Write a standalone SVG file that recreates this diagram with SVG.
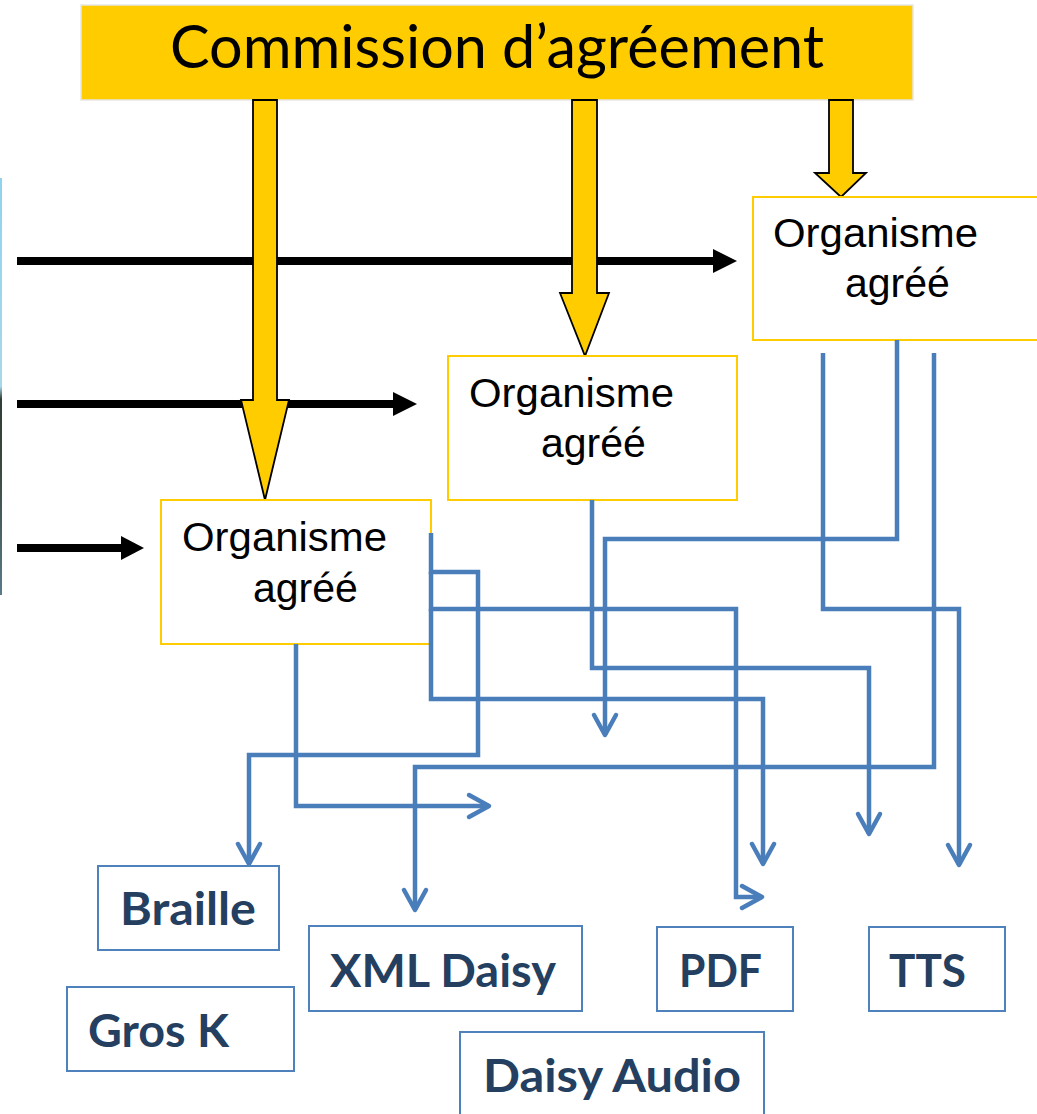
<svg xmlns="http://www.w3.org/2000/svg" width="1037" height="1114" viewBox="0 0 1037 1114">
<style>
.org rect{fill:#fff;stroke:#ffcc00;stroke-width:2}
.org text{font-family:"Liberation Sans",Arial,sans-serif;font-size:41px;fill:#000}
.out rect{fill:#fff;stroke:#4f81bd;stroke-width:2}
.out text{font-family:Lato,"Open Sans",sans-serif;font-weight:bold;font-size:45px;fill:#243f60}
.blk{stroke:#000;stroke-width:8;fill:none}
.yel{fill:#ffcc00;stroke:#000;stroke-width:1.8;stroke-linejoin:miter}
.con path{fill:none;stroke:#4a7ebb;stroke-width:4.5;marker-end:url(#ah)}
</style>
<defs>
<marker id="ah" markerUnits="userSpaceOnUse" markerWidth="30" markerHeight="30" viewBox="-24 -15 28 30" refX="0" refY="0" orient="auto" overflow="visible">
<path d="M-20,-11 L0,0 L-20,11" fill="none" stroke="#4a7ebb" stroke-width="4.5" stroke-linecap="round" stroke-linejoin="round"/>
</marker>
<linearGradient id="edge" x1="0" y1="0" x2="0" y2="1">
<stop offset="0" stop-color="#8fd3ee"/>
<stop offset="0.5" stop-color="#a8d8e8"/>
<stop offset="0.53" stop-color="#2e3e36"/>
<stop offset="0.7" stop-color="#3a4a40"/>
<stop offset="1" stop-color="#5a7a8a"/>
</linearGradient>
</defs>
<rect width="1037" height="1114" fill="#fff"/>
<rect x="0" y="178" width="2" height="417" fill="url(#edge)"/>

<g id="commission">
<rect x="81" y="5" width="832" height="95" fill="#ffcc00" stroke="#e6e6e6" stroke-width="1.5"/>
<text x="170" y="68" font-family="Lato,'Open Sans',sans-serif" font-size="60" textLength="654" lengthAdjust="spacingAndGlyphs" fill="#000">Commission d’agréement</text>
</g>

<g id="inputs">
<line class="blk" x1="17" y1="261" x2="715" y2="261"/>
<polygon points="713,249 737,261 713,273" fill="#000"/>
<line class="blk" x1="17" y1="404" x2="395" y2="404"/>
<polygon points="393,392 417,404 393,416" fill="#000"/>
<line class="blk" x1="17" y1="548" x2="123" y2="548"/>
<polygon points="121,536 144,548 121,560" fill="#000"/>
</g>

<g id="agrement-arrows">
<polygon class="yel" points="253,100 277,100 277,400 289,400 265,500 241,400 253,400"/>
<polygon class="yel" points="572,100 597,100 597,293 609,293 585,356 560,293 572,293"/>
<polygon class="yel" points="829,100 853,100 853,173 866,173 841,197 815,173 829,173"/>
</g>

<g id="org-c" class="org">
<rect x="753" y="197" width="290" height="143"/>
<text x="773" y="247" textLength="205" lengthAdjust="spacingAndGlyphs">Organisme</text>
<text x="845" y="297">agréé</text>
</g>
<g id="org-b" class="org">
<rect x="448" y="356" width="289" height="144"/>
<text x="469" y="407" textLength="205" lengthAdjust="spacingAndGlyphs">Organisme</text>
<text x="541" y="457">agréé</text>
</g>
<g id="org-a" class="org">
<rect x="161" y="500" width="270" height="144"/>
<text x="182" y="551" textLength="205" lengthAdjust="spacingAndGlyphs">Organisme</text>
<text x="253" y="602">agréé</text>
</g>

<g id="connectors" class="con">
<path d="M897,340 V539 H605 V735"/>
<path d="M823,353 V609 H959 V865"/>
<path d="M934,353 V767 H415 V910"/>
<path d="M592,500 V668 H869 V834"/>
<path d="M431,533 V572 H478 V755 H249 V864"/>
<path d="M431,572 V609 H736 V897 H762"/>
<path d="M431,609 V699 H763 V864"/>
<path d="M296,644 V806 H489"/>
</g>

<g id="braille" class="out">
<rect x="98" y="866" width="181" height="84"/>
<text x="120" y="925" textLength="136" lengthAdjust="spacingAndGlyphs">Braille</text>
</g>
<g id="gros-k" class="out">
<rect x="67" y="987" width="227" height="84"/>
<text x="88" y="1047" textLength="141" lengthAdjust="spacingAndGlyphs">Gros K</text>
</g>
<g id="xml-daisy" class="out">
<rect x="309" y="926" width="273" height="85"/>
<text x="330" y="987" textLength="226" lengthAdjust="spacingAndGlyphs">XML Daisy</text>
</g>
<g id="pdf" class="out">
<rect x="657" y="927" width="136" height="84"/>
<text x="679" y="987" textLength="83" lengthAdjust="spacingAndGlyphs">PDF</text>
</g>
<g id="tts" class="out">
<rect x="869" y="927" width="136" height="84"/>
<text x="889" y="987" textLength="77" lengthAdjust="spacingAndGlyphs">TTS</text>
</g>
<g id="daisy-audio" class="out">
<rect x="460" y="1032" width="304" height="90"/>
<text x="483" y="1092" textLength="258" lengthAdjust="spacingAndGlyphs">Daisy Audio</text>
</g>
</svg>
